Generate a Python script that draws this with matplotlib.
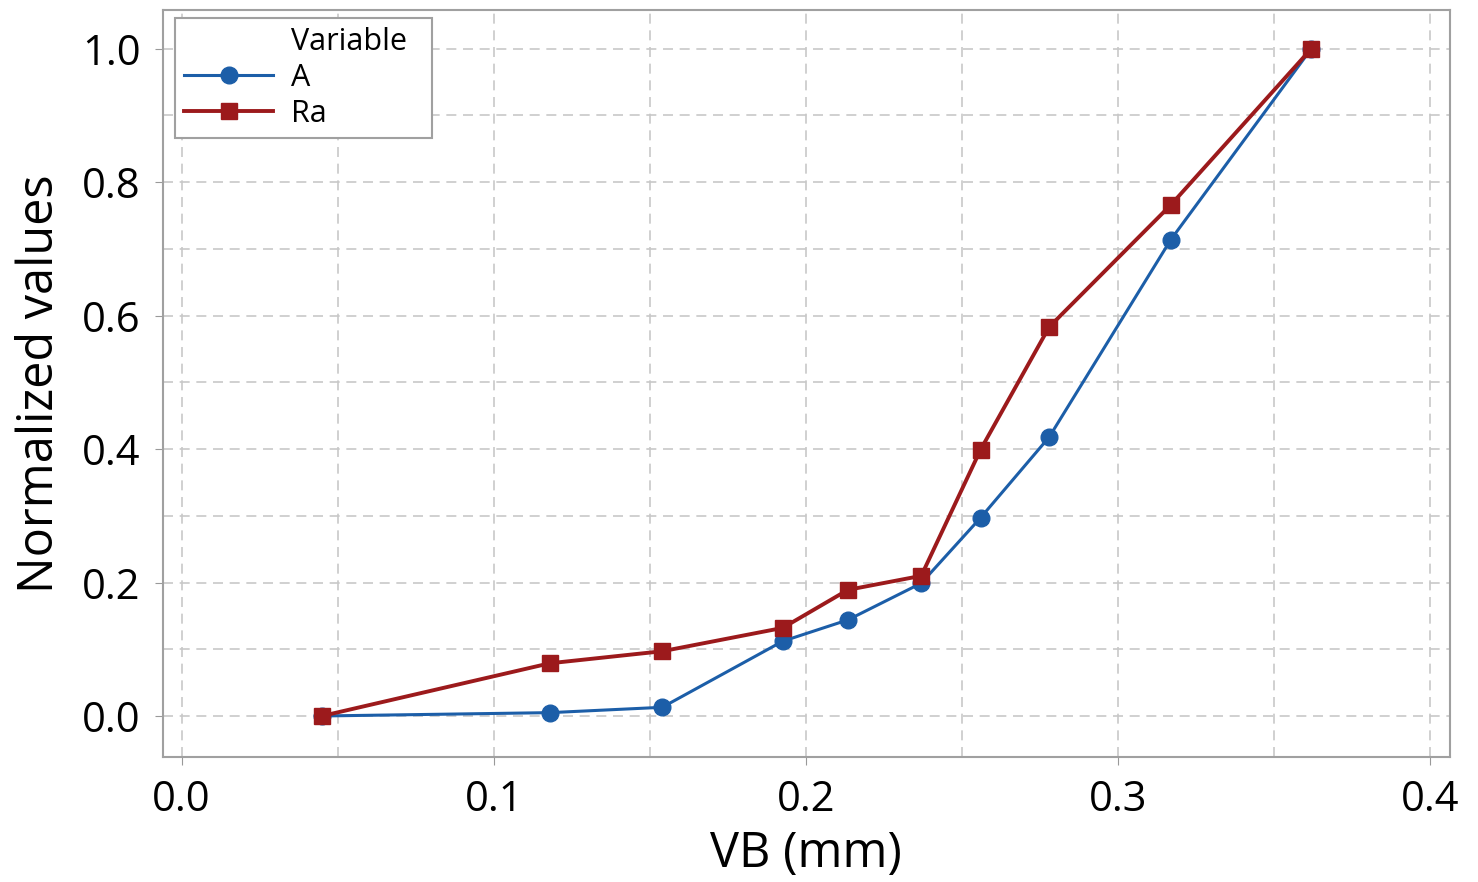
import numpy as np
import matplotlib.pyplot as plt
from matplotlib.lines import Line2D

plt.rcParams['font.family'] = ['Open Sans', 'DejaVu Sans']

VB = [0.045, 0.118, 0.154, 0.1926, 0.2135, 0.237, 0.256, 0.278, 0.317, 0.362]
A_VALS = [0.0, 0.005, 0.013, 0.112, 0.144, 0.199, 0.297, 0.418, 0.714, 1.0]
RA_VALS = [0.0, 0.079, 0.097, 0.132, 0.189, 0.210, 0.399, 0.583, 0.766, 1.0]

BLUE = "#1c5ea8"
RED = "#9c1a1c"

fig = plt.figure(figsize=(14.78, 8.82), dpi=100)
ax = fig.add_axes([0.110, 0.1417, 0.871, 0.847])

lA, = ax.plot(VB, A_VALS, color=BLUE, lw=2.2, marker="o", ms=12, label="A", zorder=3)
lRa, = ax.plot(VB, RA_VALS, color=RED, lw=2.8, marker="s", ms=12, label="Ra", zorder=4)

ax.set_xlim(-0.0061, 0.4064)
ax.set_ylim(-0.0615, 1.058)
ax.set_xticks(np.arange(0, 0.41, 0.1))
ax.set_xticks(np.arange(0.05, 0.41, 0.1), minor=True)
ax.set_yticks(np.arange(0, 1.01, 0.2))
ax.set_yticks(np.arange(0.1, 1.0, 0.2), minor=True)
ax.xaxis.set_major_formatter(plt.FormatStrFormatter("%.1f"))
ax.yaxis.set_major_formatter(plt.FormatStrFormatter("%.1f"))

ax.grid(True, which="both", ls=(0, (6, 4)), color="#c8c8c8", lw=1.2)
ax.set_axisbelow(True)
ax.tick_params(which="major", labelsize=30, length=6, color="#999999", pad=10)
ax.tick_params(which="minor", length=0)
for s in ax.spines.values():
    s.set_color("#a0a0a0")
    s.set_linewidth(1.5)

ax.set_xlabel("VB (mm)", fontsize=35, labelpad=6)
ax.set_ylabel("Normalized values", fontsize=35, labelpad=12)

title_handle = Line2D([], [], color="none")
leg = ax.legend([title_handle, lA, lRa], ["Variable  ", "A", "Ra"],
                loc="upper left", bbox_to_anchor=(0.005, 0.998), fontsize=22,
                fancybox=False, edgecolor="#a0a0a0", framealpha=1,
                handlelength=2.9, borderpad=0.3, labelspacing=0.2,
                handletextpad=0.6, borderaxespad=0.2)
leg.get_frame().set_linewidth(1.5)

fig.savefig("out.png", dpi=100)
